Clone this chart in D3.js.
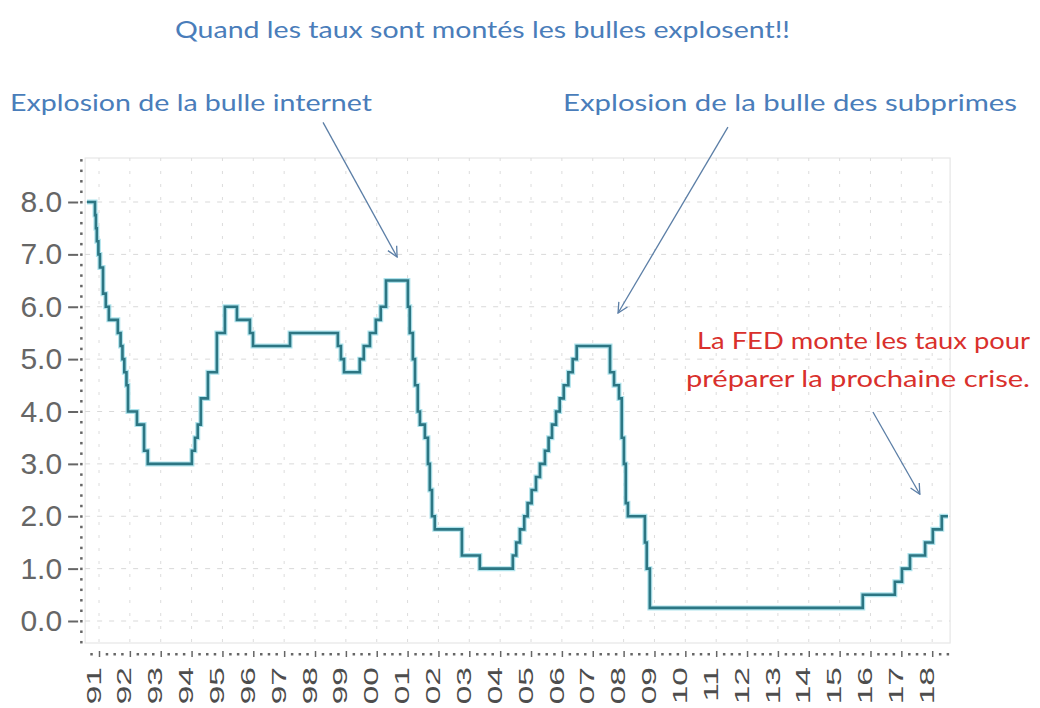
<!DOCTYPE html>
<html><head><meta charset="utf-8">
<script src="https://cdn.jsdelivr.net/npm/d3@7"></script>
<style>body{margin:0;background:#fff} svg{display:block}</style>
</head><body>
<svg id="c" width="1040" height="708"></svg>
<script>
// ---- Data ----
const stepDates = [1990.61,1990.87,1990.90,1990.93,1990.98,1991.03,1991.13,1991.22,1991.32,1991.61,1991.70,1991.76,1991.82,1991.89,1991.94,1992.23,1992.46,1992.58,
  1994.01,1994.11,1994.20,1994.30,1994.53,1994.82,1995.08,1995.47,1995.89,1995.99,1997.19,1998.74,1998.84,1998.94,1999.45,1999.58,1999.78,1999.97,2000.13,2000.30,
  2001.01,2001.07,2001.17,2001.24,2001.33,2001.40,2001.56,2001.66,2001.72,2001.79,2001.88,2002.76,2003.34,
  2004.41,2004.52,2004.64,2004.78,2004.89,2005.02,2005.16,2005.29,2005.45,2005.57,2005.68,2005.81,2005.93,2006.06,2006.21,2006.35,2006.48,
  2007.56,2007.69,2007.85,2007.94,2008.01,2008.07,2008.14,2008.69,2008.75,2008.85,2015.75,2016.79,2017.02,2017.28,2017.77,2018.02,2018.31,2018.51];
const rates = [8.0,7.75,7.5,7.25,7.0,6.75,6.25,6.0,5.75,5.5,5.25,5.0,4.75,4.5,4.0,3.75,3.25,3.0,
  3.25,3.5,3.75,4.25,4.75,5.5,6.0,5.75,5.5,5.25,5.5,5.25,5.0,4.75,5.0,5.25,5.5,5.75,6.0,6.5,
  6.0,5.5,5.0,4.5,4.0,3.75,3.5,3.0,2.5,2.0,1.75,1.25,1.0,
  1.25,1.5,1.75,2.0,2.25,2.5,2.75,3.0,3.25,3.5,3.75,4.0,4.25,4.5,4.75,5.0,5.25,
  4.75,4.5,4.25,3.5,3.0,2.25,2.0,1.5,1.0,0.25,0.5,0.75,1.0,1.25,1.5,1.75,2.0,2.0];
const yearTicks = d3.range(1991, 2019);
const yearLabels = ["91","92","93","94","95","96","97","98","99","00","01","02","03","04","05","06","07","08","09","10","11","12","13","14","15","16","17","18"];
const yTickValues = [0,1,2,3,4,5,6,7,8];
const yTickLabels = ["0.0","1.0","2.0","3.0","4.0","5.0","6.0","7.0","8.0"];
const titleText = "Quand les taux sont montés les bulles explosent!!";
const noteInternet = "Explosion de la bulle internet";
const noteSubprimes = "Explosion de la bulle des subprimes";
const noteFed = ["La FED monte les taux pour", "préparer la prochaine crise."];
// arrows in data coordinates [year, value]
const arrowInternet = [[1998.26, 9.52],[2000.66, 6.95]];
const arrowSubprimes = [[2011.38, 9.43],[2007.82, 5.88]];
const arrowFed = [[2016.08, 3.99],[2017.60, 2.42]];

// ---- Layout ----
const svg = d3.select("#c");
const x = d3.scaleLinear().domain([1991, 2018]).range([99, 932.2]);
const y = d3.scaleLinear().domain([0, 8]).range([621, 202]);
const plotL = x(1990.55), plotR = x(2018.58), plotT = y(8.84), plotB = y(-0.42);

const blue = "#4a7dba", red = "#d9302c";

// plot frame
svg.append("rect").attr("x", plotL).attr("y", plotT).attr("width", plotR-plotL).attr("height", plotB-plotT)
  .attr("fill", "#fff").attr("stroke", "#e6e6e6").attr("stroke-width", 1.2);

// grid
const grid = svg.append("g").attr("stroke", "#d9d9d9").attr("stroke-width", 1);
grid.selectAll("line.h").data(yTickValues).join("line").attr("class","h")
  .attr("x1", plotL).attr("x2", plotR).attr("y1", d=>y(d)).attr("y2", d=>y(d))
  .attr("stroke-dasharray", "5,7");
grid.selectAll("line.v").data(yearTicks).join("line").attr("class","v")
  .attr("x1", d=>x(d)).attr("x2", d=>x(d)).attr("y1", plotT).attr("y2", plotB)
  .attr("stroke-dasharray", "3,10").attr("stroke", "#dcdcdc");

// y axis
const yAxis = d3.axisLeft(y).tickValues(yTickValues).tickFormat((d,i)=>yTickLabels[i]).tickSize(10).tickPadding(6);
const gy = svg.append("g").attr("transform", `translate(${plotL-7},0)`).call(yAxis);
gy.select(".domain").remove();
gy.selectAll(".tick line").attr("stroke", "#666").attr("stroke-width", 2);
gy.selectAll(".tick text").attr("fill", "#666").style("font-family", "'Liberation Sans', Arial, sans-serif").style("font-size", "30px");
// y minor ticks
const yMinor = d3.range(-0.4, 8.81, 0.2);
svg.append("g").selectAll("rect").data(yMinor).join("rect")
  .attr("x", plotL-5).attr("y", d=>y(d)-1).attr("width", 2.5).attr("height", 2.5).attr("fill", "#666");

// x axis
const xAxis = d3.axisBottom(x).tickValues(yearTicks).tickFormat((d,i)=>yearLabels[i]).tickSize(6).tickPadding(0);
const gx = svg.append("g").attr("transform", `translate(0,${plotB+8})`).call(xAxis);
gx.select(".domain").remove();
gx.selectAll(".tick line").attr("stroke", "#666").attr("stroke-width", 1.5);
gx.selectAll(".tick text")
  .attr("y", 0).attr("dy", 0)
  .attr("transform", "translate(-6,16) rotate(-90) scale(1.6,1)")
  .attr("text-anchor", "end").attr("dominant-baseline", "central")
  .attr("fill", "#4d4d4d").style("font-family", "'Liberation Sans', Arial, sans-serif").style("font-size", "21px");
const xMinor = d3.range(1990.75, 2018.6, 0.25).filter(d => Math.abs(d - Math.round(d)) > 0.01);
svg.append("g").selectAll("rect").data(xMinor).join("rect")
  .attr("x", d=>x(d)-1).attr("y", plotB+10).attr("width", 2.5).attr("height", 2.5).attr("fill", "#666");

// line
const pts = stepDates.map((d,i)=>[d, rates[i]]);
const line = d3.line().x(d=>x(d[0])).y(d=>y(d[1])).curve(d3.curveStepAfter);
svg.append("path").datum(pts).attr("d", line).attr("fill","none").attr("stroke","#aee3ec").attr("stroke-width",5).attr("stroke-linejoin","miter");
svg.append("path").datum(pts).attr("d", line).attr("fill","none").attr("stroke","#2c7683").attr("stroke-width",2.6).attr("stroke-linejoin","miter");

// annotations
const font = "Lato, 'Open Sans', sans-serif";
function addText(t, xx, yy, len, color, anchor) {
  svg.append("text").attr("x", xx).attr("y", yy).text(t).attr("fill", color)
    .attr("text-anchor", anchor || "start")
    .style("font-family", font).style("font-size", "23px")
    .attr("textLength", len).attr("lengthAdjust", "spacingAndGlyphs");
}
addText(titleText, 175, 38, 615, blue);
addText(noteInternet, 10, 111, 362, blue);
addText(noteSubprimes, 563, 111, 454, blue);
addText(noteFed[0], 1030, 349, 333, red, "end");
addText(noteFed[1], 1030, 387, 344, red, "end");

// arrows
svg.append("defs").append("marker").attr("id","ah").attr("viewBox","0 0 12 12").attr("refX",11).attr("refY",6)
  .attr("markerWidth",12).attr("markerHeight",12).attr("markerUnits","userSpaceOnUse").attr("orient","auto")
  .append("path").attr("d","M1,1 L11,6 L1,11").attr("fill","none").attr("stroke","#5b7ea6").attr("stroke-width",1.3);
[arrowInternet, arrowSubprimes, arrowFed].forEach(a => {
  svg.append("line").attr("x1", x(a[0][0])).attr("y1", y(a[0][1])).attr("x2", x(a[1][0])).attr("y2", y(a[1][1]))
    .attr("stroke", "#5b7ea6").attr("stroke-width", 1.3).attr("marker-end", "url(#ah)");
});
</script>
</body></html>
